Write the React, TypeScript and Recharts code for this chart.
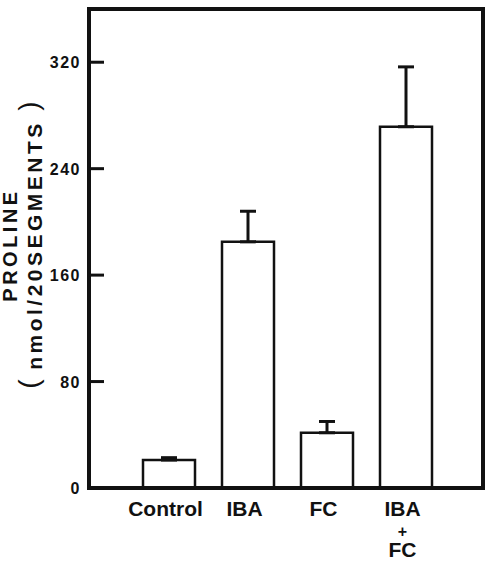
import { BarChart, Bar, XAxis, YAxis, ErrorBar } from 'recharts'

const treatments = ['Control', 'IBA', 'FC', 'IBA\n+\nFC']
const proline = [21, 185, 41.5, 271.5]
const sem = [1.8, 23, 8.5, 45]
const yTicks = [0, 80, 160, 240, 320]

const data = treatments.map((name, i) => ({
  name,
  proline: proline[i],
  err: [0, sem[i]],
}))

const font = '"Liberation Sans", Arial, sans-serif'

function CategoryTick({ x, y, payload }: any) {
  const lines = String(payload.value).split('\n')
  const cx = Number(x)
  const cy = Number(y)
  return (
    <g>
      {lines.map((line, i) => (
        <text
          key={i}
          x={cx - 3}
          y={cy + 28 + i * 20.5}
          textAnchor="middle"
          fontFamily={font}
          fontWeight="bold"
          fontSize={line === '+' ? 16 : 21}
          fill="#111"
        >
          {line}
        </text>
      ))}
    </g>
  )
}

// ticks point into the plot, label sits left of the axis
function ValueTick(props: any) {
  const { x, y, payload } = props
  const tx = Number(x)
  const ty = Number(y)
  return (
    <g>
      <path d={`M${tx + 7},${ty}H${tx + 22}`} stroke="#111" strokeWidth={3} fill="none" />
      <text
        x={tx - 1}
        y={ty}
        dy={6}
        textAnchor="end"
        fontFamily={font}
        fontWeight="bold"
        fontSize={16}
        letterSpacing={1.5}
        fill="#111"
      >
        {payload.value}
      </text>
    </g>
  )
}

function AxisTitle() {
  return (
    <g fill="#111" fontFamily={font}>
      <text
        transform="translate(17,245) rotate(-90)"
        textAnchor="middle"
        fontSize={20}
        fontWeight="bold"
        letterSpacing={3.5}
      >
        PROLINE
      </text>
      <text
        transform="translate(42,245) rotate(-90)"
        textAnchor="middle"
        fontSize={21}
        fontWeight="bold"
        letterSpacing={3.5}
      >
        nmol/20SEGMENTS
      </text>
      <text transform="translate(37.5,384) rotate(-90)" textAnchor="middle" fontSize={28}>
        (
      </text>
      <text transform="translate(37.5,106) rotate(-90)" textAnchor="middle" fontSize={28}>
        )
      </text>
    </g>
  )
}

export default function App() {
  const axisLine = { stroke: '#111', strokeWidth: 4, strokeLinecap: 'square' as const }
  return (
    <div style={{ position: 'absolute', left: 0, top: 0, background: '#fff' }}>
      <BarChart
        width={492}
        height={561}
        data={data}
        margin={{ top: 8, right: 8, left: 29, bottom: 33 }}
        barCategoryGap={0}
      >
        <XAxis
          dataKey="name"
          height={40}
          axisLine={axisLine}
          tickLine={false}
          tickSize={0}
          tickMargin={0}
          padding={{ left: 40, right: 38 }}
          tick={<CategoryTick />}
          interval={0}
        />
        <XAxis xAxisId="top" dataKey="name" orientation="top" height={1} axisLine={axisLine} tick={false} tickLine={false} />
        <YAxis
          width={60}
          domain={[0, 360]}
          ticks={yTicks}
          axisLine={axisLine}
          tickLine={false}
          tickSize={0}
          tickMargin={7}
          tick={<ValueTick />}
          label={{ content: () => <AxisTitle /> }}
        />
        <YAxis yAxisId="right" orientation="right" width={1} domain={[0, 360]} axisLine={axisLine} tick={false} tickLine={false} />
        <Bar dataKey="proline" barSize={52} fill="#fff" stroke="#111" strokeWidth={2.5} isAnimationActive={false}>
          <ErrorBar dataKey="err" width={8} stroke="#111" strokeWidth={3} direction="y" />
        </Bar>
      </BarChart>
    </div>
  )
}
